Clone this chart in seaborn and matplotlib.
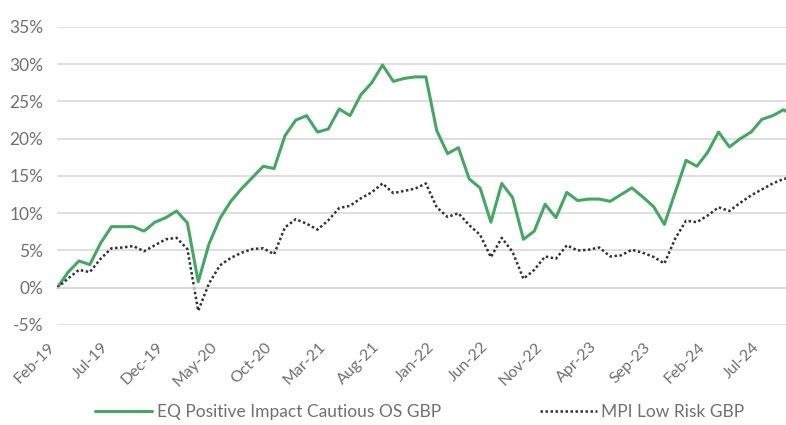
import matplotlib
matplotlib.use("Agg")
import matplotlib.pyplot as plt
from matplotlib.ticker import MultipleLocator, FixedLocator, FuncFormatter
from matplotlib.lines import Line2D
import seaborn as sns
import pandas as pd
import numpy as np

# Monthly cumulative performance (%), Feb-2019 onwards
months = pd.date_range("2019-02-01", periods=69, freq="MS")
eq_cautious = [0, 2.1, 3.6, 3.1, 6.0, 8.2, 8.2, 8.2, 7.6, 8.8, 9.4, 10.3, 8.7, 0.8,
               5.9, 9.3, 11.6, 13.3, 14.8, 16.3, 16.0, 20.4, 22.5, 23.1, 20.9, 21.3,
               24.0, 23.1, 25.9, 27.5, 29.9, 27.7, 28.1, 28.3, 28.3, 21.1, 18.0, 18.8,
               14.6, 13.4, 8.8, 14.0, 12.1, 6.5, 7.6, 11.2, 9.4, 12.8, 11.7, 11.9, 11.9,
               11.6, 12.5, 13.4, 12.2, 10.9, 8.5, 12.8, 17.1, 16.3, 18.2, 20.9, 18.9,
               20.0, 20.9, 22.6, 23.1, 23.9, 22.9]
mpi_low_risk = [0, 1.25, 2.4, 2.1, 3.9, 5.3, 5.4, 5.6, 4.9, 5.7, 6.5, 6.7, 5.2, -3.1,
                0.6, 3.0, 4.0, 4.7, 5.2, 5.3, 4.5, 8.1, 9.2, 8.6, 7.8, 9.05, 10.7, 11.0,
                12.0, 12.8, 14.0, 12.7, 13.0, 13.3, 14.0, 10.8, 9.5, 10.0, 8.4, 7.1, 4.1,
                6.7, 4.8, 1.2, 2.4, 4.2, 3.9, 5.7, 5.0, 5.1, 5.4, 4.2, 4.35, 5.1, 4.7,
                4.15, 3.25, 6.6, 9.0, 8.8, 9.7, 10.8, 10.3, 11.4, 12.4, 13.2, 14.0, 14.6,
                14.9]
series_names = ["EQ Positive Impact Cautious OS GBP", "MPI Low Risk GBP"]
tick_labels = [m.strftime("%b-%y") for m in months]

df = pd.DataFrame({
    "month": np.arange(len(months)),
    series_names[0]: eq_cautious,
    series_names[1]: mpi_low_risk,
}).melt(id_vars="month", var_name="series", value_name="value")

sns.set_theme(style="white")
plt.rcParams["font.family"] = ["Lato", "DejaVu Sans"]
plt.rcParams["font.weight"] = "normal"

GREEN = "#42a862"
DARK = "#333333"
GRID = "#d9d9d9"
TEXT = "#707070"

fig = plt.figure(figsize=(7.86, 4.25), dpi=100)
ax = fig.add_axes([0.0729, 0.2353, 0.9271, 0.7012])

sns.lineplot(data=df, x="month", y="value", hue="series", style="series",
             palette={series_names[0]: GREEN, series_names[1]: DARK},
             dashes={series_names[0]: "", series_names[1]: (1, 1)},
             linewidth=2.2, ax=ax, legend=False)
ax.lines[1].set_linewidth(1.8)

ax.set_xlim(0, 67.22)
ax.set_ylim(-5, 35)
ax.yaxis.set_major_locator(MultipleLocator(5))
ax.yaxis.set_major_formatter(FuncFormatter(lambda v, p: f"{v:.0f}%"))
ax.grid(axis="y", color=GRID, linewidth=1.2)
ax.grid(axis="x", visible=False)
ax.set_axisbelow(True)

for s in ["top", "right", "left"]:
    ax.spines[s].set_visible(False)
ax.spines["bottom"].set_position(("data", 0))
ax.spines["bottom"].set_color(GRID)
ax.spines["bottom"].set_linewidth(1.2)

ax.xaxis.set_major_locator(FixedLocator(np.arange(0, len(months), 5)))
ax.xaxis.set_minor_locator(MultipleLocator(1))
ax.set_xticklabels(tick_labels[::5])
ax.tick_params(axis="x", which="major", direction="inout", length=7, width=1.2,
               color=GRID, labelsize=11.5, labelcolor=TEXT, pad=34)
ax.tick_params(axis="x", which="minor", direction="inout", length=4, width=1,
               color=GRID)
plt.setp(ax.get_xticklabels(), rotation=45, ha="right", rotation_mode="default")
ax.tick_params(axis="y", length=0, labelsize=12.5, labelcolor=TEXT, pad=10)
ax.set_xlabel("")
ax.set_ylabel("")

handles = [Line2D([], [], color=GREEN, linewidth=2.2),
           Line2D([], [], color=DARK, linewidth=1.8, linestyle=(0, (1, 1)))]
leg = fig.legend(handles, series_names, loc="center", bbox_to_anchor=(0.534, 0.03),
                 ncol=2, frameon=False, fontsize=12.5, handlelength=3.3,
                 handletextpad=0.25, columnspacing=5.7)
for t in leg.get_texts():
    t.set_color(TEXT)

fig.savefig("out.png", dpi=100)
